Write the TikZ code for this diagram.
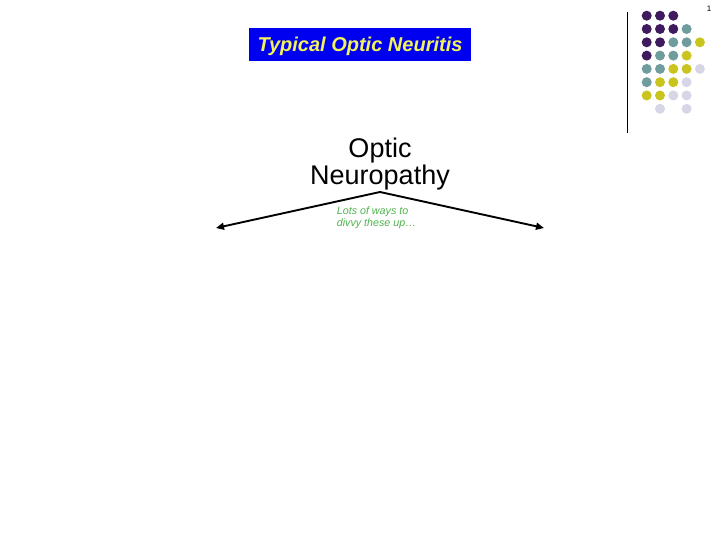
\documentclass[tikz,border=0pt]{standalone}
\usepackage{fontspec}
\setmainfont{Liberation Sans}
\usetikzlibrary{positioning,arrows.meta}
\definecolor{dotpurple}{HTML}{3F1A5E}
\definecolor{dotteal}{HTML}{6F9C9C}
\definecolor{dotyellow}{HTML}{C9C51E}
\definecolor{dotlilac}{HTML}{D6D6E6}
\definecolor{boxblue}{HTML}{0000F0}
\definecolor{titleyellow}{HTML}{F2F25A}
\definecolor{notegreen}{HTML}{4CB34C}

\begin{document}
\begin{tikzpicture}[x=1pt, y=-1pt, griddot/.style={circle, inner sep=0pt, minimum size=10pt}, branch/.style={-{Triangle[length=8pt, width=7pt]}, line width=1.9pt}]
  \useasboundingbox (0,0) rectangle (720,540);
  % corner decoration
  \foreach \c/\r/\col in {0/0/dotpurple, 1/0/dotpurple, 2/0/dotpurple,
      0/1/dotpurple, 1/1/dotpurple, 2/1/dotpurple, 3/1/dotteal,
      0/2/dotpurple, 1/2/dotpurple, 2/2/dotteal, 3/2/dotteal, 4/2/dotyellow,
      0/3/dotpurple, 1/3/dotteal, 2/3/dotteal, 3/3/dotyellow,
      0/4/dotteal, 1/4/dotteal, 2/4/dotyellow, 3/4/dotyellow, 4/4/dotlilac,
      0/5/dotteal, 1/5/dotyellow, 2/5/dotyellow, 3/5/dotlilac,
      0/6/dotyellow, 1/6/dotyellow, 2/6/dotlilac, 3/6/dotlilac,
      1/7/dotlilac, 3/7/dotlilac}
    \node[griddot, fill=\col] (dot\c\r) at (646.7+13.3*\c, 15.7+13.3*\r) {};
  \draw[line width=1pt] (627,12) -- (627,133);
  \node[font=\fontsize{8}{9}\selectfont, inner sep=0pt] (pagenum) at (709,9) {1};

  % title box
  \node[fill=boxblue, minimum width=222pt, minimum height=33pt, inner sep=0pt] (title) at (360,44.5) {};
  \node[text=titleyellow, font=\fontsize{20}{24}\selectfont\bfseries\itshape, inner sep=0pt] (titletext) at (360,46) {Typical Optic Neuritis};

  % tree top
  \coordinate (apex) at (380,192);
  \coordinate (leftend) at (216,228);
  \coordinate (rightend) at (544,228);
  \node[above=2pt of apex, inner sep=0pt, align=center, font=\fontsize{27}{27}\selectfont] (neuro) {Optic\\Neuropathy};
  \draw[branch] (apex) -- (leftend);
  \draw[branch] (apex) -- (rightend);
  \node[anchor=north west, inner sep=0pt, align=left, text=notegreen, font=\fontsize{10.7}{12}\selectfont\itshape] (note) at (336.7,206.5) {Lots of ways to\\divvy these up\ldots};
\end{tikzpicture}
\end{document}
